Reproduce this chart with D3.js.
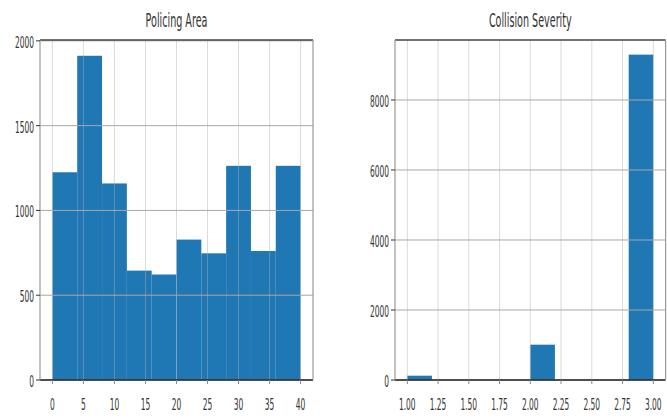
<!DOCTYPE html>
<html><head><meta charset="utf-8">
<script src="https://cdn.jsdelivr.net/npm/d3@7"></script>
<style>
html,body{margin:0;padding:0;background:#fff;}
svg{display:block;}
text{font-family:"DejaVu Sans",sans-serif;fill:#333;}
</style></head>
<body>
<svg id="chart" width="667" height="419"></svg>
<script>
// ---- data ----
const policingBinStarts = [0, 4, 8, 12, 16, 20, 24, 28, 32, 36];
const policingBinWidth = 4;
const policingCounts = [1225, 1912, 1159, 645, 622, 828, 747, 1263, 761, 1263];
const policingXTicks = [0, 5, 10, 15, 20, 25, 30, 35, 40];
const policingYTicks = [0, 500, 1000, 1500, 2000];

const severityBinStarts = [1.0, 1.2, 1.4, 1.6, 1.8, 2.0, 2.2, 2.4, 2.6, 2.8];
const severityBinWidth = 0.2;
const severityCounts = [123, 0, 0, 0, 0, 1009, 0, 0, 0, 9295];
const severityXTicks = [1.00, 1.25, 1.50, 1.75, 2.00, 2.25, 2.50, 2.75, 3.00];
const severityYTicks = [0, 2000, 4000, 6000, 8000];

const svg = d3.select("#chart");
const SX = 0.5;       // horizontal squish of the reference
const TICK_FS = 15, TITLE_FS = 20;
const plotTop = 40, plotBottom = 380;

function panel(opts) {
  const {left, right, xDomain, yMax, starts, width, counts, xTicks, yTicks, xFmt, title} = opts;
  const x = d3.scaleLinear().domain(xDomain).range([left, right]);
  const y = d3.scaleLinear().domain([0, yMax]).range([plotBottom, plotTop]);
  const g = svg.append("g");

  // bars
  g.selectAll("rect.bar").data(counts).enter().append("rect")
    .attr("x", (d, i) => x(starts[i]))
    .attr("width", (d, i) => x(starts[i] + width) - x(starts[i]))
    .attr("y", d => y(d))
    .attr("height", d => y(0) - y(d))
    .attr("fill", "#1f77b4");

  // grid (drawn over bars like pandas hist)
  g.selectAll("line.vg").data(xTicks).enter().append("line")
    .attr("x1", d => x(d)).attr("x2", d => x(d))
    .attr("y1", plotTop).attr("y2", plotBottom)
    .attr("stroke", "#b0b0b0").attr("stroke-opacity", 0.45).attr("stroke-width", 1);
  g.selectAll("line.hg").data(yTicks).enter().append("line")
    .attr("x1", left).attr("x2", right)
    .attr("y1", d => y(d)).attr("y2", d => y(d))
    .attr("stroke", "#a8a8a8").attr("stroke-width", 1);

  // spines
  g.append("line").attr("x1", left).attr("x2", right).attr("y1", plotTop).attr("y2", plotTop)
    .attr("stroke", "#444").attr("stroke-width", 1.4);
  g.append("line").attr("x1", left).attr("x2", right).attr("y1", plotBottom).attr("y2", plotBottom)
    .attr("stroke", "#222").attr("stroke-width", 1.4);
  g.append("line").attr("x1", left).attr("x2", left).attr("y1", plotTop).attr("y2", plotBottom)
    .attr("stroke", "#999").attr("stroke-width", 1.2);
  g.append("line").attr("x1", right).attr("x2", right).attr("y1", plotTop).attr("y2", plotBottom)
    .attr("stroke", "#999").attr("stroke-width", 1.2);

  // y ticks and labels
  yTicks.forEach(t => {
    g.append("line").attr("x1", left - 4).attr("x2", left).attr("y1", y(t)).attr("y2", y(t))
      .attr("stroke", "#333").attr("stroke-width", 1);
    g.append("text")
      .attr("transform", `translate(${left - 6},${y(t) + 7}) scale(${SX},1)`)
      .attr("text-anchor", "end").attr("font-size", TICK_FS)
      .text(t);
  });
  // x ticks and labels
  xTicks.forEach(t => {
    g.append("line").attr("x1", x(t)).attr("x2", x(t)).attr("y1", plotBottom).attr("y2", plotBottom + 4)
      .attr("stroke", "#888").attr("stroke-width", 1);
    g.append("text")
      .attr("transform", `translate(${x(t)},${plotBottom + 30}) scale(${SX},1)`)
      .attr("text-anchor", "middle").attr("font-size", TICK_FS)
      .text(xFmt(t));
  });
  // title
  g.append("text")
    .attr("transform", `translate(${(left + right) / 2},${27}) scale(${SX * 0.96},1)`)
    .attr("text-anchor", "middle").attr("font-size", TITLE_FS)
    .text(title);
}

panel({
  left: 40, right: 313, xDomain: [-2, 42], yMax: 2005,
  starts: policingBinStarts, width: policingBinWidth, counts: policingCounts,
  xTicks: policingXTicks, yTicks: policingYTicks, xFmt: d3.format("d"),
  title: "Policing Area"
});
panel({
  left: 395, right: 665.6, xDomain: [0.9, 3.1], yMax: d3.max(severityCounts) * 1.045,
  starts: severityBinStarts, width: severityBinWidth, counts: severityCounts,
  xTicks: severityXTicks, yTicks: severityYTicks, xFmt: d3.format(".2f"),
  title: "Collision Severity"
});
</script>
</body></html>
